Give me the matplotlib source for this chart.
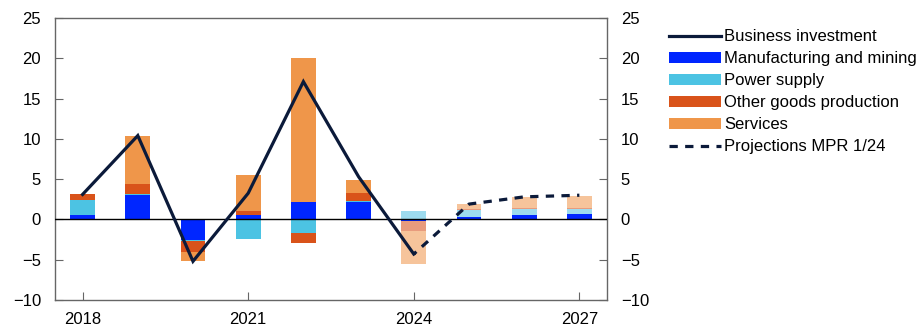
import matplotlib
matplotlib.use("Agg")
import matplotlib.pyplot as plt
from matplotlib.lines import Line2D
from matplotlib.patches import Patch
import numpy as np

plt.rcParams['font.family'] = ['Liberation Sans', 'DejaVu Sans']

years = [2018, 2019, 2020, 2021, 2022, 2023, 2024, 2025, 2026, 2027]
manufacturing = [0.6, 3.0, -2.55, 0.55, 2.1, 2.2, -0.25, 0.3, 0.5, 0.65]
power_supply = [1.8, 0.1, -0.1, -2.4, -1.67, 0.1, 1.05, 0.9, 0.8, 0.62]
other_goods = [0.75, 1.3, -1.35, 0.5, -1.25, 1.0, -1.15, 0.1, 0.1, 0.1]
services = [-0.1, 5.9, -1.2, 4.4, 17.9, 1.6, -4.1, 0.62, 1.4, 1.58]
business_investment = [3.1, 10.4, -5.2, 3.25, 17.1, 5.3, -4.3, 1.9, 2.8, 3.0]
first_projection_year = 2024

series_names = ["Manufacturing and mining", "Power supply",
                "Other goods production", "Services"]
colors = ["#0026ff", "#4cc3e3", "#d9531a", "#ef964a"]
light_colors = ["#0026ff", "#9ddbee", "#e89b7d", "#f6c49b"]
line_color = "#0b1a3a"

fig = plt.figure(figsize=(9.18, 3.31), dpi=100)
ax = fig.add_axes([0.0599, 0.0937, 0.6013, 0.852])

width = 0.45
x = np.array(years, dtype=float)
pos_base = np.zeros(len(years))
neg_base = np.zeros(len(years))
for vals, col, lcol in zip([manufacturing, power_supply, other_goods, services],
                           colors, light_colors):
    vals = np.array(vals)
    bottoms = np.where(vals >= 0, pos_base, neg_base)
    bar_cols = [lcol if yr >= first_projection_year else col for yr in years]
    ax.bar(x, vals, width=width, bottom=bottoms, color=bar_cols,
           linewidth=0, zorder=2)
    pos_base += np.where(vals >= 0, vals, 0)
    neg_base += np.where(vals < 0, vals, 0)

ax.axhline(0, color="black", linewidth=1.0, zorder=3)

idx = years.index(first_projection_year)
ax.plot(years[:idx + 1], business_investment[:idx + 1], color=line_color,
        linewidth=2.3, zorder=4, solid_joinstyle="miter")
ax.plot(years[idx:], business_investment[idx:], color=line_color,
        linewidth=2.3, linestyle=(1.5, (2.6, 2.3)), zorder=4)

ax.set_xlim(2017.5, 2027.5)
ax.set_ylim(-10, 25)
ax.set_xticks([2018, 2021, 2024, 2027])
ax.set_yticks(np.arange(-10, 26, 5))

spine_color = "#666666"
for s in ax.spines.values():
    s.set_color(spine_color)
    s.set_linewidth(1.0)

ax.tick_params(axis="both", direction="in", length=6, color=spine_color,
               labelsize=12, labelcolor="black")
ax.tick_params(axis="y", left=True, right=True, labelleft=True,
               labelright=True, pad=10)
ax.tick_params(axis="x", pad=9)

handles = [Line2D([0], [0], color=line_color, linewidth=2.3)]
handles += [Patch(facecolor=c, edgecolor="none") for c in colors]
handles += [Line2D([0], [0], color=line_color, linewidth=2.3,
                   linestyle=(0, (2.6, 2.3)))]
labels = ["Business investment"] + series_names + ["Projections MPR 1/24"]
fig.legend(handles, labels, loc="upper left", bbox_to_anchor=(0.7288, 0.912),
           frameon=False, fontsize=12, handlelength=3.1, handleheight=0.6,
           handletextpad=0.2, labelspacing=0.42, borderpad=0, borderaxespad=0)

fig.savefig("out.png", dpi=100)
